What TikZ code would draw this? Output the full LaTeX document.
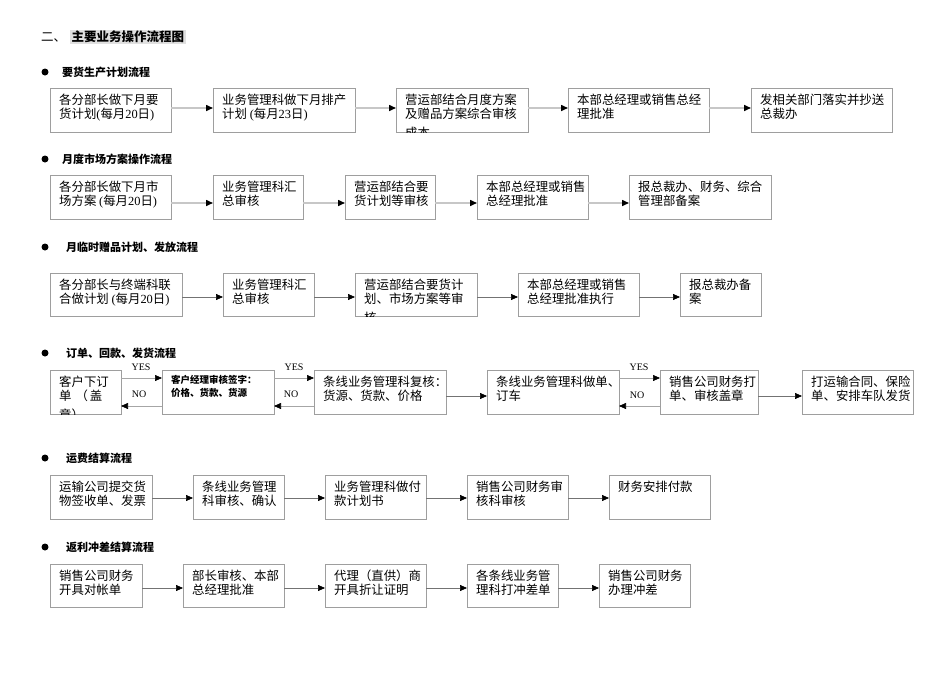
\documentclass[tikz,border=0pt]{standalone}
\usepackage{fontspec}
\setmainfont{Noto Sans CJK SC}
\newfontfamily\lat{Liberation Serif}
\usetikzlibrary{arrows.meta}
\tikzset{
  boxst/.style={draw=black!38, line width=0.8pt, inner sep=0pt, outer sep=0pt, fill=white, anchor=north west},
  boxtxt/.style={inner xsep=9pt, inner ysep=5.5pt, align=left, anchor=north west, font=\fontsize{12.4}{14}\selectfont},
  boldtxt/.style={boxtxt, inner ysep=5pt, font=\fontsize{9.5}{13}\selectfont\bfseries},
  hdr/.style={font=\fontsize{11}{13}\selectfont\bfseries, anchor=west, inner sep=0pt},
  tipA/.style={-{Triangle[length=7pt,width=6pt,color=black]}},
  arrL/.style={tipA, draw=black!22, line width=1.5pt},
  arrD/.style={tipA, draw=black!55, line width=0.7pt},
  arrY/.style={tipA, draw=black!35, line width=0.6pt},
  yn/.style={font=\lat\fontsize{10}{12}\selectfont, inner sep=0pt},
}
% name, x1, y1, x2, y2, style, text
\newcommand{\mybox}[7]{%
  \node[boxst, minimum width={(#4-#2)*1pt}, minimum height={(#5-#3)*1pt}] (#1) at (#2,#3) {};
  \begin{scope}
    \clip (#1.south west) rectangle (#1.north east);
    \node[#6] (#1t) at (#1.north west) {#7};
  \end{scope}}
\newcommand{\conn}[4]{\draw[#1] (#2.east |- 0,#4) -- (#3.west |- 0,#4);}
\newcommand{\bul}[4]{%
  \fill (45,#2) circle (3.5);
  \node[hdr] (#1) at (#3,#2) {#4};}
\begin{document}
\begin{tikzpicture}[x=1pt,y=-1pt]
\useasboundingbox (0,0) rectangle (950,672);
\fill[white] (0,0) rectangle (950,672);

% title
\node[anchor=west, inner sep=0pt, font=\fontsize{12.5}{15}\selectfont] (t0) at (41,37) {二、};
\node[anchor=west, inner sep=1.5pt, fill=black!12, font=\fontsize{12.5}{15}\selectfont\bfseries] (t1) at (70,37) {主要业务操作流程图};

% row 1
\bul{h1}{72}{62}{要货生产计划流程}
\mybox{a1}{50}{88}{171}{132}{boxtxt}{各分部长做下月要\\货计划{\lat(}每月{\lat 20}日{\lat)}}
\mybox{a2}{213}{88}{355}{132}{boxtxt}{业务管理科做下月排产\\计划 {\lat(}每月{\lat 23}日{\lat)}}
\mybox{a3}{396}{88}{528}{132}{boxtxt}{营运部结合月度方案\\及赠品方案综合审核\\[5pt]成本}
\mybox{a4}{568}{88}{709}{132}{boxtxt}{本部总经理或销售总经\\理批准}
\mybox{a5}{751}{88}{892}{132}{boxtxt}{发相关部门落实并抄送\\总裁办}
\conn{arrL}{a1}{a2}{108}
\conn{arrL}{a2}{a3}{108}
\conn{arrL}{a3}{a4}{108}
\conn{arrL}{a4}{a5}{108}

% row 2
\bul{h2}{159}{62}{月度市场方案操作流程}
\mybox{b1}{50}{175}{171}{219}{boxtxt}{各分部长做下月市\\场方案 {\lat(}每月{\lat 20}日{\lat)}}
\mybox{b2}{213}{175}{303}{219}{boxtxt}{业务管理科汇\\总审核}
\mybox{b3}{345}{175}{435}{219}{boxtxt}{营运部结合要\\货计划等审核}
\mybox{b4}{477}{175}{588}{219}{boxtxt}{本部总经理或销售\\总经理批准}
\mybox{b5}{629}{175}{771}{219}{boxtxt}{报总裁办、财务、综合\\管理部备案}
\conn{arrL}{b1}{b2}{203}
\conn{arrL}{b2}{b3}{203}
\conn{arrL}{b3}{b4}{203}
\conn{arrL}{b4}{b5}{203}

% row 3
\bul{h3}{247}{66}{月临时赠品计划、发放流程}
\mybox{c1}{50}{273}{182}{316}{boxtxt}{各分部长与终端科联\\合做计划 {\lat(}每月{\lat 20}日{\lat)}}
\mybox{c2}{223}{273}{314}{316}{boxtxt}{业务管理科汇\\总审核}
\mybox{c3}{355}{273}{477}{316}{boxtxt}{营运部结合要货计\\划、市场方案等审\\[5pt]核}
\mybox{c4}{518}{273}{639}{316}{boxtxt}{本部总经理或销售\\总经理批准执行}
\mybox{c5}{680}{273}{761}{316}{boxtxt}{报总裁办备\\案}
\conn{arrD}{c1}{c2}{297}
\conn{arrD}{c2}{c3}{297}
\conn{arrD}{c3}{c4}{297}
\conn{arrD}{c4}{c5}{297}

% row 4
\bul{h4}{353}{66}{订单、回款、发货流程}
\mybox{d1}{50}{370}{121}{414}{boxtxt}{客户下订\\单\hspace{4pt}（\hspace{2pt}盖\\[5pt]章）}
\mybox{d2}{162}{370}{274}{414}{boldtxt}{客户经理审核签字：\\价格、货款、货源}
\mybox{d3}{314}{370}{446}{414}{boxtxt}{条线业务管理科复核：\\货源、货款、价格}
\mybox{d4}{487}{370}{619}{414}{boxtxt}{条线业务管理科做单、\\订车}
\mybox{d5}{660}{370}{758}{414}{boxtxt}{销售公司财务打\\单、审核盖章}
\mybox{d6}{802}{370}{913}{414}{boxtxt}{打运输合同、保险\\单、安排车队发货}
\conn{arrY}{d1}{d2}{378}
\draw[arrY] (d2.west |- 0,406) -- (d1.east |- 0,406);
\conn{arrY}{d2}{d3}{378}
\draw[arrY] (d3.west |- 0,406) -- (d2.east |- 0,406);
\conn{arrD}{d3}{d4}{396}
\conn{arrY}{d4}{d5}{378}
\draw[arrY] (d5.west |- 0,406) -- (d4.east |- 0,406);
\conn{arrD}{d5}{d6}{396}
\node[yn] (y1) at (141,367) {YES};
\node[yn] (n1) at (139,394) {NO};
\node[yn] (y2) at (294,367) {YES};
\node[yn] (n2) at (291,394) {NO};
\node[yn] (y3) at (639,367) {YES};
\node[yn] (n3) at (637,395) {NO};

% row 5
\bul{h5}{458}{66}{运费结算流程}
\mybox{e1}{50}{475}{152}{519}{boxtxt}{运输公司提交货\\物签收单、发票}
\mybox{e2}{193}{475}{284}{519}{boxtxt}{条线业务管理\\科审核、确认}
\mybox{e3}{325}{475}{426}{519}{boxtxt}{业务管理科做付\\款计划书}
\mybox{e4}{467}{475}{568}{519}{boxtxt}{销售公司财务审\\核科审核}
\mybox{e5}{609}{475}{710}{519}{boxtxt}{财务安排付款}
\conn{arrD}{e1}{e2}{498}
\conn{arrD}{e2}{e3}{498}
\conn{arrD}{e3}{e4}{498}
\conn{arrD}{e4}{e5}{498}

% row 6
\bul{h6}{547}{66}{返利冲差结算流程}
\mybox{f1}{50}{564}{142}{607}{boxtxt}{销售公司财务\\开具对帐单}
\mybox{f2}{183}{564}{284}{607}{boxtxt}{部长审核、本部\\总经理批准}
\mybox{f3}{325}{564}{426}{607}{boxtxt}{代理（直供）商\\开具折让证明}
\mybox{f4}{467}{564}{558}{607}{boxtxt}{各条线业务管\\理科打冲差单}
\mybox{f5}{599}{564}{690}{607}{boxtxt}{销售公司财务\\办理冲差}
\conn{arrD}{f1}{f2}{588}
\conn{arrD}{f2}{f3}{588}
\conn{arrD}{f3}{f4}{588}
\conn{arrD}{f4}{f5}{588}
\end{tikzpicture}
\end{document}
